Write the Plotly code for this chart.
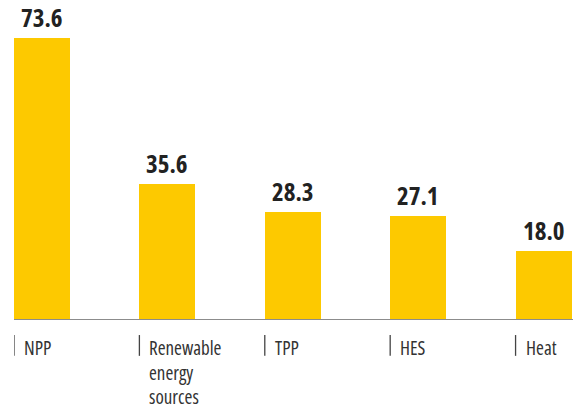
import plotly.graph_objects as go

categories = ["NPP", "Renewable<br>energy<br>sources", "TPP", "HES", "Heat"]
values = [73.6, 35.6, 28.3, 27.1, 18.0]
value_labels = ["73.6", "35.6", "28.3", "27.1", "18.0"]

BAR_W = 0.447
FONT = "Open Sans, DejaVu Sans Condensed, sans-serif"

xs = list(range(len(categories)))

fig = go.Figure()
fig.add_trace(go.Bar(
    x=xs, y=values, width=BAR_W, offset=0,
    marker=dict(color="#FDC900", line=dict(width=0)),
    hoverinfo="skip",
))

for i, (v, lab) in enumerate(zip(values, value_labels)):
    fig.add_annotation(x=i + BAR_W / 2, y=v,
                       text='<span style="font-stretch:75%">' + lab + '</span>',
                       showarrow=False, xanchor="center", yanchor="bottom",
                       yshift=2, font=dict(family=FONT, size=25, color="#222222",
                                           weight=700))

for i, c in enumerate(categories):
    txt = "<br>".join('<span style="font-stretch:75%">' + p + '</span>'
                      for p in c.split("<br>"))
    fig.add_annotation(x=i, xref="x", y=-0.040, yref="paper", text=txt,
                       showarrow=False, xanchor="left", yanchor="top",
                       xshift=8, align="left",
                       font=dict(family=FONT, size=19, color="#333333"))
    fig.add_shape(type="line", xref="x", yref="paper", x0=i, x1=i,
                  y0=-0.047, y1=-0.112, line=dict(color="#444444", width=1.3))

fig.update_layout(
    width=573, height=410,
    margin=dict(l=14, r=0, t=0, b=90),
    paper_bgcolor="white", plot_bgcolor="white",
    showlegend=False, bargap=0,
    xaxis=dict(range=[0, 4.458], showticklabels=False, showgrid=False,
               zeroline=False, showline=False, fixedrange=True),
    yaxis=dict(range=[0, 83.5], showticklabels=False, showgrid=False,
               zeroline=False, showline=False),
)
fig.add_shape(type="line", xref="paper", yref="y", x0=0, x1=1, y0=0, y1=0,
              line=dict(color="#8c8c8c", width=2))

fig.write_html("out.html")
